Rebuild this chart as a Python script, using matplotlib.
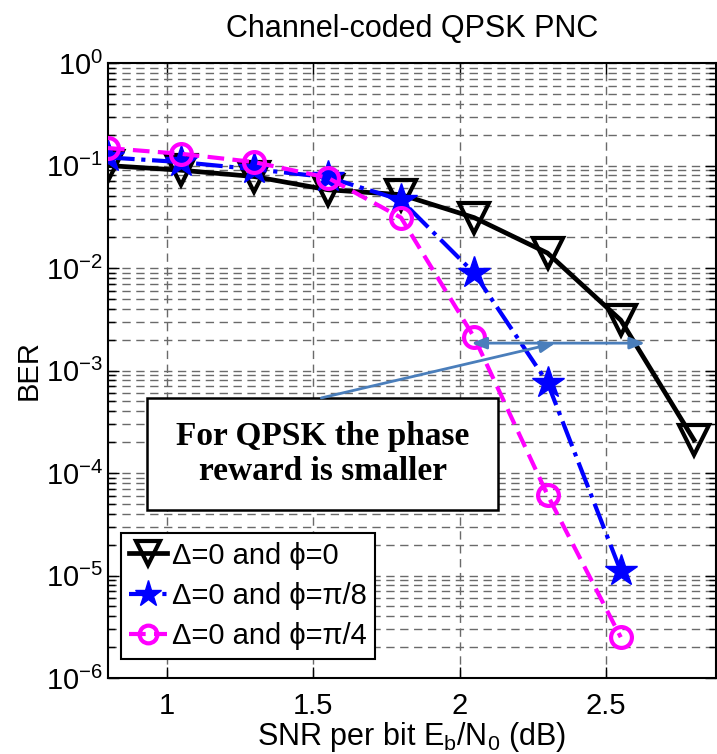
import numpy as np
import matplotlib.pyplot as plt
from matplotlib.patches import Rectangle

plt.rcParams['font.family'] = ['Liberation Sans', 'DejaVu Sans']
plt.rcParams['mathtext.fontset'] = 'custom'
plt.rcParams['mathtext.rm'] = 'Liberation Sans'
plt.rcParams['mathtext.it'] = 'Liberation Sans:italic'

# SNR per bit (dB)
snr = [0.8, 1.05, 1.3, 1.55, 1.8, 2.05, 2.3, 2.55, 2.8]

# BER curves for the three phase offsets
ber_phi0 = [0.100, 0.090, 0.078, 0.058, 0.052, 0.031, 0.014, 0.0031, 2.1e-4]
ber_phi_pi8 = [0.120, 0.108, 0.092, 0.077, 0.046, 0.0089, 7.6e-4, 1.1e-5]
ber_phi_pi4 = [0.148, 0.130, 0.108, 0.076, 0.031, 0.0021, 6.1e-5, 2.5e-6]

labels = ['Δ=0 and ϕ=0', 'Δ=0 and ϕ=π/8', 'Δ=0 and ϕ=π/4']
note = 'For QPSK the phase\nreward is smaller'

# gap arrows at the BER of the pi/4 curve at 2.05 dB
gap_y = 1.85e-3
gap_x = [2.04, 2.633]
pointer_from = (1.528, 5.4e-4)
pointer_to = (2.327, 1.85e-3)

fig = plt.figure(figsize=(7.17, 7.54), dpi=100)
ax = fig.add_axes([0.1506, 0.1008, 0.848, 0.8156])

ax.semilogy(snr, ber_phi0, color='k', lw=3.4, marker='v', ms=21, mfc='none',
            mew=3, label=labels[0], zorder=4)
ax.semilogy(snr[:len(ber_phi_pi8)], ber_phi_pi8, color='b', lw=3, ls='-.',
            marker='*', ms=24, mfc='b', mec='b', label=labels[1], zorder=5)
ax.semilogy(snr[:len(ber_phi_pi4)], ber_phi_pi4, color='#ff00ff', lw=3,
            ls='--', dashes=(4, 2), marker='o', ms=15, mfc='none', mew=3,
            label=labels[2], zorder=6)

ax.set_xlim(0.8, 2.875)
ax.set_ylim(1e-6, 1)
ax.set_xticks([1, 1.5, 2, 2.5])
ax.set_xticklabels(['1', '1.5', '2', '2.5'])
ax.set_yticks([10.0 ** k for k in range(-6, 1)])
ax.set_yticklabels(['$10^{-6}$', '$10^{-5}$', '$10^{-4}$', '$10^{-3}$',
                    '$10^{-2}$', '$10^{-1}$', '$10^{0}$'])
ax.yaxis.set_minor_locator(plt.matplotlib.ticker.LogLocator(base=10, subs=np.arange(2, 10)))
ax.yaxis.set_minor_formatter(plt.NullFormatter())

ax.grid(True, which='major', axis='both', color='#6a6a6a', ls=(0, (6, 4)), lw=1)
ax.grid(True, which='minor', axis='y', color='#6a6a6a', ls=(0, (6, 4)), lw=1)
ax.set_axisbelow(True)

ax.tick_params(which='both', direction='in', top=True, right=True,
               labelsize=21, width=1)
ax.tick_params(which='major', length=8)
ax.tick_params(which='minor', length=5)
ax.tick_params(axis='x', pad=10)
for s in ax.spines.values():
    s.set_linewidth(1.5)

ax.set_xlabel('SNR per bit E$_\\mathrm{b}$/N$_\\mathrm{0}$ (dB)', fontsize=22, labelpad=0)
ax.set_ylabel('BER', fontsize=21, labelpad=2)
ax.set_title('Channel-coded QPSK PNC', fontsize=22, pad=19)

# note box
ax.add_patch(Rectangle((0.064, 0.273), 0.577, 0.182, transform=ax.transAxes,
                       facecolor='white', edgecolor='k', lw=1.8, zorder=7))
ax.text(0.353, 0.364, note, transform=ax.transAxes, ha='center', va='center',
        family='Liberation Serif', fontweight='bold', fontsize=24,
        linespacing=1.15, zorder=8)

arrow_color = '#4a7ebb'
ax.annotate('', xy=pointer_to, xytext=pointer_from,
            arrowprops=dict(arrowstyle='-|>,head_length=0.9,head_width=0.35',
                            color=arrow_color, lw=2, shrinkA=0, shrinkB=0),
            zorder=9)
ax.annotate('', xy=(gap_x[1], gap_y), xytext=(gap_x[0], gap_y),
            arrowprops=dict(arrowstyle='<|-|>,head_length=0.9,head_width=0.35',
                            color=arrow_color, lw=2, shrinkA=0, shrinkB=0),
            zorder=9)

leg = ax.legend(loc='lower left', bbox_to_anchor=(0.021, 0.031), borderaxespad=0,
                fontsize=21, handlelength=1.3, handletextpad=0.15,
                labelspacing=0.42, borderpad=0.3, fancybox=False, framealpha=1,
                markerscale=0.85)
leg.get_frame().set_edgecolor('k')
leg.get_frame().set_linewidth(1.5)
leg.set_zorder(10)

fig.savefig('out.png', dpi=100)
